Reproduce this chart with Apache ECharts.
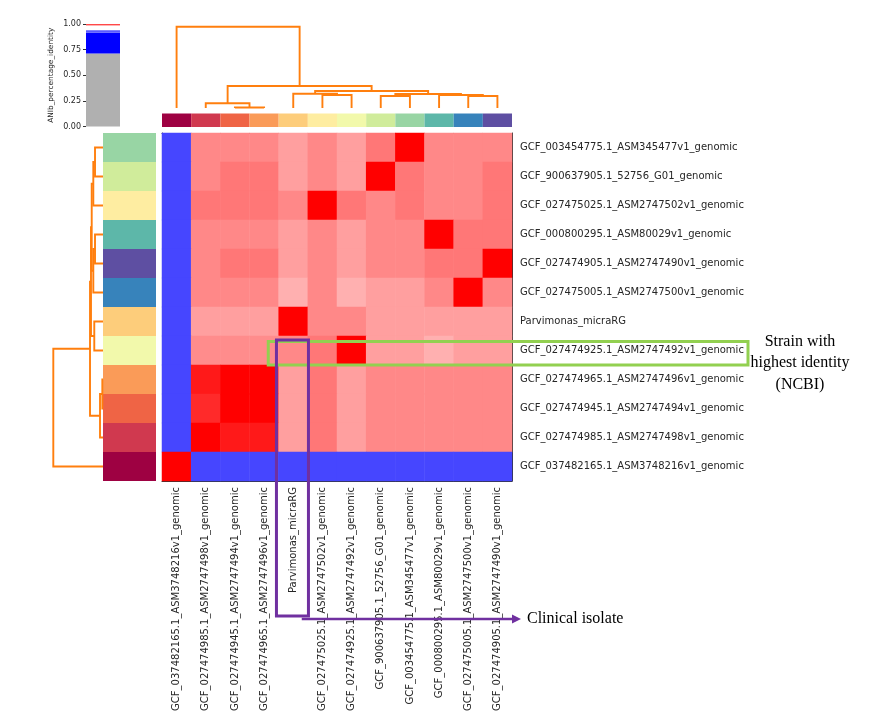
<!DOCTYPE html>
<html>
<head>
<meta charset="utf-8">
<script src="https://cdn.jsdelivr.net/npm/echarts@6/dist/echarts.min.js"></script>
<style>
html,body{margin:0;padding:0;background:#fff;}
#chart{width:879px;height:720px;}
</style>
</head>
<body>
<div id="chart"></div>
<script>
// ---------------- DATA ----------------
const colNames = [
  'GCF_037482165.1_ASM3748216v1_genomic',
  'GCF_027474985.1_ASM2747498v1_genomic',
  'GCF_027474945.1_ASM2747494v1_genomic',
  'GCF_027474965.1_ASM2747496v1_genomic',
  'Parvimonas_micraRG',
  'GCF_027475025.1_ASM2747502v1_genomic',
  'GCF_027474925.1_ASM2747492v1_genomic',
  'GCF_900637905.1_52756_G01_genomic',
  'GCF_003454775.1_ASM345477v1_genomic',
  'GCF_000800295.1_ASM80029v1_genomic',
  'GCF_027475005.1_ASM2747500v1_genomic',
  'GCF_027474905.1_ASM2747490v1_genomic'
];
const rowNames = [
  'GCF_003454775.1_ASM345477v1_genomic',
  'GCF_900637905.1_52756_G01_genomic',
  'GCF_027475025.1_ASM2747502v1_genomic',
  'GCF_000800295.1_ASM80029v1_genomic',
  'GCF_027474905.1_ASM2747490v1_genomic',
  'GCF_027475005.1_ASM2747500v1_genomic',
  'Parvimonas_micraRG',
  'GCF_027474925.1_ASM2747492v1_genomic',
  'GCF_027474965.1_ASM2747496v1_genomic',
  'GCF_027474945.1_ASM2747494v1_genomic',
  'GCF_027474985.1_ASM2747498v1_genomic',
  'GCF_037482165.1_ASM3748216v1_genomic'
];
// genome label colours (column order)
const colColors = ['#9e0142','#d0394f','#ef6445','#fa9b58','#fdcd7b','#feeda1','#f2f9ab','#d0ec9b','#98d5a4','#5db7a9','#3783bb','#5e4fa2'];

// ANIb percentage identity, rows (top->bottom) x columns (left->right)
const ani = [
  [0.800,0.9893,0.9893,0.9893,0.9875,0.9893,0.9875,0.9907,1.000,0.9893,0.9893,0.9893],
  [0.800,0.9893,0.9907,0.9907,0.9875,0.9893,0.9875,1.000,0.9907,0.9893,0.9893,0.9907],
  [0.800,0.9907,0.9907,0.9907,0.9893,1.000,0.9907,0.9893,0.9907,0.9893,0.9893,0.9907],
  [0.800,0.9893,0.9893,0.9893,0.9875,0.9893,0.9875,0.9893,0.9893,1.000,0.9907,0.9907],
  [0.790,0.9893,0.9907,0.9907,0.9875,0.9893,0.9875,0.9893,0.9893,0.9907,0.9907,1.000],
  [0.800,0.9893,0.9893,0.9893,0.9862,0.9893,0.9862,0.9875,0.9875,0.9893,1.000,0.9893],
  [0.800,0.9875,0.9875,0.9875,1.000,0.9893,0.9893,0.9875,0.9875,0.9875,0.9875,0.9875],
  [0.800,0.9890,0.9890,0.9890,0.9893,0.9907,1.000,0.9875,0.9875,0.9862,0.9875,0.9875],
  [0.800,0.9980,1.000,1.000,0.9875,0.9907,0.9875,0.9893,0.9893,0.9893,0.9893,0.9893],
  [0.800,0.9967,1.000,1.000,0.9875,0.9907,0.9875,0.9893,0.9893,0.9893,0.9893,0.9893],
  [0.800,1.000,0.9980,0.9980,0.9875,0.9907,0.9875,0.9893,0.9893,0.9893,0.9893,0.9893],
  [1.000,0.800,0.800,0.800,0.800,0.800,0.800,0.800,0.800,0.800,0.800,0.800]
];

// column dendrogram links: [leftPos, rightPos, leftChildHeight, rightChildHeight, linkHeight]
const colLinks = [
  [2, 3, 0, 0, 0.5],
  [1, 2.5, 0, 0.5, 4.7],
  [5, 6, 0, 0, 13],
  [4, 5.5, 0, 13, 14.3],
  [7, 8, 0, 0, 12],
  [10, 11, 0, 0, 12],
  [9, 10.5, 0, 12, 13],
  [7.5, 9.75, 12, 13, 14],
  [4.75, 8.625, 14.3, 14, 17],
  [1.75, 6.6875, 4.7, 17, 22],
  [0, 4.21875, 0, 22, 81.3]
];
// row dendrogram links
const rowLinks = [
  [0, 1, 0, 0, 13.1],
  [0.5, 2, 13.1, 0, 15.9],
  [3, 4, 0, 0, 13.1],
  [3.5, 5, 13.1, 0, 15.9],
  [1.25, 4.25, 15.9, 15.9, 18.5],
  [6, 7, 0, 0, 14.3],
  [2.75, 6.5, 18.5, 14.3, 19.7],
  [8, 9, 0, 0, 1.1],
  [8.5, 10, 1.1, 0, 4.9],
  [4.625, 9.25, 19.7, 4.9, 21.3],
  [6.9375, 11, 21.3, 0, 81.5]
];

// colour-bar legend segments (ANIb identity bounds)
const cbBounds = [0, 0.713, 0.915, 0.94, 0.982, 0.99, 1.0];
const cbColors = ['#b0b0b0', '#0000ff', '#5a5aff', 'rgba(255,255,255,0)', '#ff9a9a', '#ff4848'];
const cbTicks = [0, 0.25, 0.5, 0.75, 1.0];

// ---------------- BUILD ----------------
const heatData = [];
ani.forEach((row, r) => row.forEach((v, c) => heatData.push([c, r, v])));

const cmapMin = 0.78, cmapMax = 1.0;
function cmap(v) {
  if (v < 0.93) return '#4646ff';
  if (v < 0.98) return '#ffffff';
  const t = Math.min(1, (v - 0.98) / 0.02);
  const g = Math.round(255 * (1 - t));
  return 'rgb(255,' + g + ',' + g + ')';
}
const cmapStops = [];
for (let i = 0; i <= 220; i++) cmapStops.push(cmap(cmapMin + i * 0.001));

const colorOf = {};
colNames.forEach((n, i) => colorOf[n] = colColors[i]);
const rowColors = rowNames.map(n => colorOf[n]);

const DCOL = '#ff7f0e';
function dendroRender(orient) {
  return function (params, api) {
    const pL = api.value(0), pR = api.value(1), hL = api.value(2), hR = api.value(3), h = api.value(4);
    const pt = (p, hh) => orient === 'top' ? api.coord([p, hh]) : api.coord([hh, p]);
    return {
      type: 'polyline',
      shape: { points: [pt(pL, hL), pt(pL, h), pt(pR, h), pt(pR, hR)] },
      style: { stroke: DCOL, lineWidth: 1.9, fill: null }
    };
  };
}

const FONT = 'DejaVu Sans';
const LBL = '#262626';

const option = {
  animation: false,
  backgroundColor: '#ffffff',
  grid: [
    { left: 162, top: 133, width: 350, height: 348 },   // heatmap
    { left: 162, top: 20, width: 350, height: 88 },     // top dendrogram
    { left: 43, top: 133, width: 60, height: 348 },     // left dendrogram
    { left: 162, top: 113.5, width: 350, height: 13.5 },// column colours
    { left: 103, top: 133, width: 53, height: 348 },    // row colours
    { left: 86, top: 24, width: 34, height: 102.5 }     // legend colour bar
  ],
  xAxis: [
    { gridIndex: 0, type: 'category', data: colNames, position: 'bottom',
      axisLine: { lineStyle: { color: '#333', width: 1 } },
      axisTick: { alignWithLabel: true, length: 4, lineStyle: { color: '#333' } },
      axisLabel: { rotate: 90, interval: 0, fontSize: 10, color: LBL, fontFamily: FONT, margin: 6 },
      splitLine: { show: false } },
    { gridIndex: 0, type: 'category', data: colNames, position: 'top',
      axisLine: { lineStyle: { color: '#333', width: 1 } }, axisTick: { show: false }, axisLabel: { show: false } },
    { gridIndex: 1, type: 'value', min: -0.5, max: 11.5, show: false },
    { gridIndex: 2, type: 'value', min: 0, max: 98.4, inverse: true, show: false },
    { gridIndex: 3, type: 'category', data: colNames, show: false },
    { gridIndex: 4, type: 'value', min: 0, max: 1, show: false },
    { gridIndex: 5, type: 'category', data: ['ANIb'], show: false }
  ],
  yAxis: [
    { gridIndex: 0, type: 'category', data: rowNames, inverse: true, position: 'right',
      axisLine: { lineStyle: { color: '#333', width: 1 } },
      axisTick: { alignWithLabel: true, length: 4, lineStyle: { color: '#333' } },
      axisLabel: { interval: 0, fontSize: 10, color: LBL, fontFamily: FONT, margin: 8 },
      splitLine: { show: false } },
    { gridIndex: 0, type: 'category', data: rowNames, inverse: true, position: 'left',
      axisLine: { lineStyle: { color: '#333', width: 1 } }, axisTick: { show: false }, axisLabel: { show: false } },
    { gridIndex: 1, type: 'value', min: 0, max: 88, show: false },
    { gridIndex: 2, type: 'value', min: -0.5, max: 11.5, inverse: true, show: false },
    { gridIndex: 3, type: 'value', min: 0, max: 1, show: false },
    { gridIndex: 4, type: 'category', data: rowNames, inverse: true, show: false },
    { gridIndex: 5, type: 'value', min: 0, max: 1, interval: 0.25,
      name: 'ANIb_percentage_identity', nameLocation: 'middle', nameRotate: 90, nameGap: 31,
      nameTextStyle: { fontSize: 7.4, color: LBL, fontFamily: FONT },
      axisLine: { show: false },
      axisTick: { show: true, length: 3, lineStyle: { color: '#333' } },
      axisLabel: { fontSize: 8, color: LBL, fontFamily: FONT, margin: 5,
        customValues: cbTicks, formatter: v => Number(v).toFixed(2) },
      splitLine: { show: false } }
  ],
  visualMap: {
    type: 'continuous', show: false, seriesIndex: 0, dimension: 2,
    min: cmapMin, max: cmapMax, inRange: { color: cmapStops }
  },
  series: [
    { type: 'heatmap', xAxisIndex: 0, yAxisIndex: 0, data: heatData,
      itemStyle: { borderWidth: 0 }, emphasis: { disabled: true } },
    { type: 'custom', xAxisIndex: 2, yAxisIndex: 2, renderItem: dendroRender('top'),
      data: colLinks, encode: { x: [0, 1], y: [2, 3, 4] }, silent: true, z: 3 },
    { type: 'custom', xAxisIndex: 3, yAxisIndex: 3, renderItem: dendroRender('left'),
      data: rowLinks, encode: { x: [2, 3, 4], y: [0, 1] }, silent: true, z: 3 },
    { type: 'bar', xAxisIndex: 4, yAxisIndex: 4, barWidth: '100%', barCategoryGap: 0,
      data: colColors.map(c => ({ value: 1, itemStyle: { color: c } })), silent: true },
    { type: 'bar', xAxisIndex: 5, yAxisIndex: 5, barWidth: '100%', barCategoryGap: 0,
      data: rowColors.map(c => ({ value: 1, itemStyle: { color: c } })), silent: true }
  ]
};
cbColors.forEach((c, i) => {
  option.series.push({
    type: 'bar', xAxisIndex: 6, yAxisIndex: 6, stack: 'cb', barWidth: '100%', silent: true,
    data: [+(cbBounds[i + 1] - cbBounds[i]).toFixed(4)], itemStyle: { color: c }
  });
});

const chart = echarts.init(document.getElementById('chart'), null, { renderer: 'canvas' });
chart.setOption(option);

// ---------------- ANNOTATIONS ----------------
const p = chart.convertToPixel({ gridIndex: 0 }, [4, 7]);       // Parvimonas column / strain row
const pEnd = chart.convertToPixel({ gridIndex: 0 }, [11, 7]);
const cellW = pEnd[0] - chart.convertToPixel({ gridIndex: 0 }, [10, 7])[0];
const gridRight = pEnd[0] + cellW / 2;
const GREEN = '#92d050', PURPLE = '#7030a0';
const boxBottom = 616, arrowY = 619;
chart.setOption({
  graphic: [
    { type: 'rect', z: 100, shape: { x: p[0] - 25, y: p[1] - 9, width: gridRight + 236 - (p[0] - 25), height: 23.5 },
      style: { stroke: GREEN, lineWidth: 3, fill: null } },
    { type: 'rect', z: 101, shape: { x: p[0] - 16.8, y: p[1] - 10.4, width: 32, height: boxBottom - (p[1] - 10.4) },
      style: { stroke: PURPLE, lineWidth: 3, fill: null } },
    { type: 'line', z: 101, shape: { x1: p[0] + 8.5, y1: arrowY, x2: 514, y2: arrowY },
      style: { stroke: PURPLE, lineWidth: 2.5 } },
    { type: 'polygon', z: 101, shape: { points: [[512, 614.5], [521, arrowY], [512, 623.5]] },
      style: { fill: PURPLE } },
    { type: 'text', z: 101, x: 527, y: arrowY,
      style: { text: 'Clinical isolate', font: '16px "Liberation Serif"', fill: '#000', verticalAlign: 'middle', align: 'left' } },
    { type: 'text', z: 101, x: 800, y: 331,
      style: { text: 'Strain with\nhighest identity\n(NCBI)', font: '16px "Liberation Serif"', lineHeight: 21.5,
        fill: '#000', align: 'center', verticalAlign: 'top' } }
  ]
});
</script>
</body>
</html>
